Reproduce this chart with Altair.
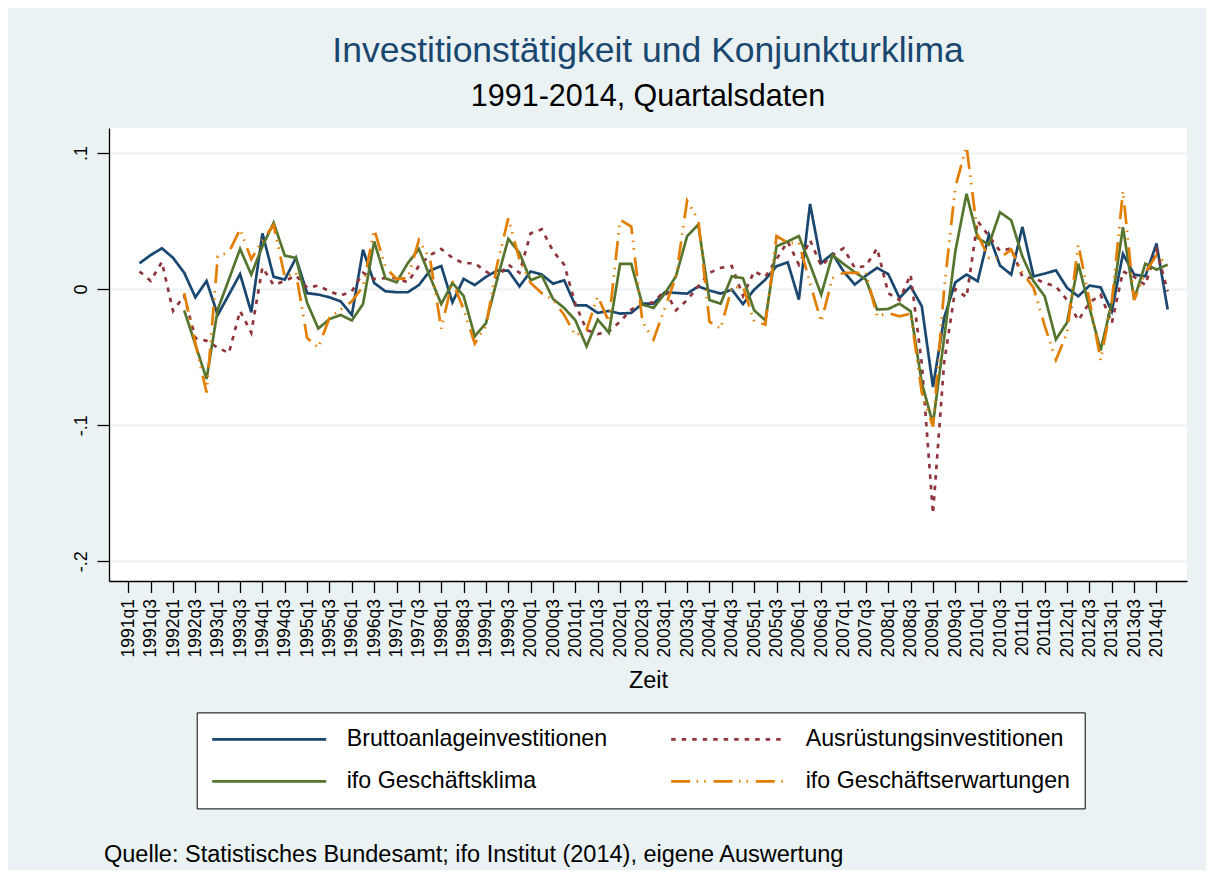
import json
import altair as alt
import pandas as pd

# quarter labels, index 0 = 1991q1 ... 93 = 2014q2
quarters = [f"{1991 + k // 4}q{k % 4 + 1}" for k in range(94)]

# Bruttoanlageinvestitionen, 1991q2 .. 2014q2
brutto = [0.019, 0.025, 0.030, 0.023, 0.012, -0.006, 0.006, -0.019, -0.004, 0.011,
          -0.017, 0.041, 0.009, 0.007, 0.023, -0.003, -0.004, -0.006, -0.009, -0.019,
          0.029, 0.0045, -0.0016, -0.0023, -0.0023, 0.003, 0.0136, 0.017, -0.0097, 0.0075,
          0.003, 0.009, 0.0136, 0.0136, 0.002, 0.013, 0.0107, 0.004, 0.0065, -0.012,
          -0.012, -0.0175, -0.016, -0.018, -0.0175, -0.0107, -0.0107, -0.0023, -0.0028, -0.0033,
          0.002, -0.001, -0.0033, -0.0004, -0.011, -0.0004, 0.007, 0.0168, 0.0197, -0.0077,
          0.0626, 0.0192, 0.026, 0.013, 0.0033, 0.0099, 0.0156, 0.011, -0.0065, 0.002,
          -0.0126, -0.0719, -0.021, 0.005, 0.0107, 0.0058, 0.040, 0.0173, 0.0107, 0.0457,
          0.0094, 0.0114, 0.0138, 0.0009, -0.0053, 0.0026, 0.0013, -0.0163, 0.0259, 0.0107,
          0.0094, 0.0335, -0.015]

# Ausrüstungsinvestitionen, 1991q2 .. 2014q2
ausr = [0.013, 0.006, 0.020, -0.016, -0.005, -0.036, -0.038, -0.043, -0.047, -0.016,
        -0.032, 0.016, 0.003, 0.006, 0.010, 0.001, 0.0026, -0.0016, -0.0048, -0.0016,
        0.012, 0.0075, 0.008, 0.008, 0.005, 0.017, 0.025, 0.0295, 0.023, 0.019,
        0.019, 0.013, 0.008, 0.018, 0.012, 0.041, 0.044, 0.028, 0.018, -0.011,
        -0.030, -0.033, -0.031, -0.024, -0.015, -0.011, -0.0097, -0.001, -0.0156, -0.008,
        0.002, 0.012, 0.0156, 0.017, -0.005, 0.013, 0.009, 0.022, 0.035, 0.018,
        0.036, 0.017, 0.025, 0.030, 0.0156, 0.017, 0.030, -0.003, -0.008, 0.0107,
        -0.055, -0.165, -0.054, 0.0, -0.006, 0.050, 0.039, 0.028, 0.030, 0.009,
        0.008, 0.0045, 0.002, -0.008, -0.023, -0.010, -0.004, -0.025, 0.013, 0.009,
        0.003, 0.029, -0.0016]

# ifo Geschäftsklima, 1992q2 .. 2014q2
klima = [-0.0156, -0.0408, -0.066, -0.015, 0.0072, 0.0295, 0.0107, 0.0315, 0.0487, 0.0246,
         0.0229, -0.0102, -0.029, -0.022, -0.019, -0.023, -0.011, 0.035, 0.008, 0.005,
         0.019, 0.0295, 0.009, -0.011, 0.0045, -0.005, -0.0347, -0.025, 0.007, 0.0369,
         0.0266, 0.0065, 0.0099, -0.0072, -0.0138, -0.0229, -0.042, -0.0224, -0.032, 0.0185,
         0.0185, -0.0114, -0.0138, -0.0033, 0.0094, 0.0389, 0.0474, -0.008, -0.0107, 0.0094,
         0.008, -0.0156, -0.023, 0.0315, 0.035, 0.039, 0.018, -0.004, 0.025, 0.0185,
         0.0125, 0.007, -0.015, -0.0146, -0.0107, -0.0163, -0.069, -0.099, -0.036, 0.0278,
         0.070, 0.0376, 0.0327, 0.0565, 0.0506, 0.024, 0.0058, -0.0053, -0.037, -0.0245,
         0.0187, -0.0137, -0.045, -0.010, 0.0455, -0.0077, 0.0187, 0.0143, 0.018]

# ifo Geschäftserwartungen, 1992q2 .. 2014q2
erw = [-0.003, -0.040, -0.076, 0.024, 0.027, 0.044, 0.022, 0.036, 0.047, 0.009,
       0.012, -0.036, -0.043, -0.021, -0.015, -0.009, 0.002, 0.044, 0.016, 0.0075,
       0.008, 0.036, 0.022, -0.029, 0.006, -0.015, -0.040, -0.027, 0.018, 0.052,
       0.0217, 0.0045, -0.003, -0.008, -0.019, -0.034, -0.030, -0.005, -0.024, 0.051,
       0.046, -0.024, -0.037, -0.014, 0.009, 0.065, 0.051, -0.024, -0.029, 0.001,
       0.002, -0.024, -0.026, 0.039, 0.034, 0.034, 0.0045, -0.024, 0.008, 0.012,
       0.012, 0.012, -0.020, -0.0175, -0.020, -0.018, -0.076, -0.101, 0.0, 0.075,
       0.105, 0.040, 0.023, 0.023, 0.029, 0.012, 0.001, -0.027, -0.052, -0.032,
       0.033, -0.008, -0.052, -0.010, 0.072, -0.008, 0.012, 0.025, 0.018]

series_names = ["Bruttoanlageinvestitionen", "Ausrüstungsinvestitionen",
                "ifo Geschäftsklima", "ifo Geschäftserwartungen"]
series_values = [brutto, ausr, klima, erw]
series_start = [1, 1, 5, 5]
colors = ["#1a476f", "#90353b", "#55752f", "#e37e00"]
dashes = [[1, 0], [4.5, 6], [1, 0], [19, 6.5, 1.5, 6, 1.5, 7.8]]

# legend fills column by column: this order gives rows (Brutto, Ausr) / (Klima, Erw)
legend_order = [0, 2, 1, 3]

y_ticks = [-0.2, -0.1, 0.0, 0.1]
y_labels = ["-.2", "-.1", "0", ".1"]
note_text = "Quelle: Statistisches Bundesamt; ifo Institut (2014), eigene Auswertung"

rows = []
for name, vals, start in zip(series_names, series_values, series_start):
    for j, v in enumerate(vals):
        rows.append({"t": start + j, "quarter": quarters[start + j], "series": name, "value": v})
df = pd.DataFrame(rows)

FONT = "Liberation Sans"

y_label_expr = " : ".join(
    f"abs(datum.value - ({v})) < 0.01 ? '{lab}'" for v, lab in zip(y_ticks, y_labels)
) + " : ''"
x_label_expr = f"{json.dumps(quarters, ensure_ascii=False)}[round(datum.value)]"

dom = [series_names[k] for k in legend_order]
color_enc = alt.Color("series:N", scale=alt.Scale(domain=dom, range=[colors[k] for k in legend_order]), title=None)
dash_enc = alt.StrokeDash("series:N", scale=alt.Scale(domain=dom, range=[dashes[k] for k in legend_order]), title=None)

x_enc = alt.X("t:Q",
              scale=alt.Scale(domain=[-1.73, 94.73], nice=False, zero=False),
              axis=alt.Axis(values=list(range(0, 94, 2)), labelExpr=x_label_expr, title="Zeit",
                            grid=False, labelAngle=270, labelAlign="right", labelBaseline="middle",
                            labelFontSize=17.5, labelPadding=6, tickSize=11.5, titleFontSize=23.5,
                            titlePadding=12, labelOverlap=False, labelFlush=False))
y_enc = alt.Y("value:Q",
              scale=alt.Scale(domain=[-0.2145, 0.1184], nice=False, zero=False),
              axis=alt.Axis(values=y_ticks, labelExpr=y_label_expr, title=None, grid=True,
                            gridColor="#eaf2f3", gridWidth=2, labelAngle=270, labelAlign="center",
                            labelBaseline="alphabetic", labelFontSize=18, labelPadding=11,
                            tickSize=12, labelFlush=False, labelOverlap=False))

layers = []
for name in series_names:
    layers.append(
        alt.Chart(df).transform_filter(alt.datum.series == name)
        .mark_line(strokeWidth=2.7, strokeCap="butt")
        .encode(x=x_enc, y=y_enc, color=color_enc, strokeDash=dash_enc, order="t:Q")
    )

note = alt.Chart(pd.DataFrame({"note": [note_text]})).mark_text(
    align="left", baseline="alphabetic", fontSize=23.5, font=FONT, color="black"
).encode(text="note:N", x=alt.value(-5), y=alt.value(733.7))

chart = alt.layer(*layers, note).properties(
    width=1078, height=453,
    title=alt.TitleParams(
        text="Investitionstätigkeit und Konjunkturklima",
        subtitle="1991-2014, Quartalsdaten",
        anchor="middle", fontSize=35.5, font=FONT, fontWeight="normal", color="#1a476f",
        subtitleFontSize=30.5, subtitleFont=FONT, subtitleColor="black",
        subtitlePadding=12, offset=16,
    ),
    autosize=alt.AutoSizeParams(type="none"),
    padding={"left": 101, "top": 120, "right": 19, "bottom": 289},
).configure(
    background="#eaf2f3", font=FONT
).configure_view(
    fill="white", strokeWidth=0
).configure_axis(
    domainColor="black", domainWidth=1.3, tickColor="black", tickWidth=1.3,
    labelColor="black", titleColor="black", labelFont=FONT, titleFont=FONT,
    titleFontWeight="normal"
).configure_legend(
    orient="none", legendX=87.7, legendY=584.4, columns=2,
    symbolType="stroke", symbolSize=13000, symbolStrokeWidth=2.7, clipHeight=26,
    labelFontSize=23.2, labelFont=FONT, labelColor="black", labelOffset=19,
    columnPadding=62, rowPadding=16, padding=14,
    strokeColor="black", fillColor="white", labelLimit=400
)

chart.save("out.html", embed_options={"renderer": "svg", "actions": False})
